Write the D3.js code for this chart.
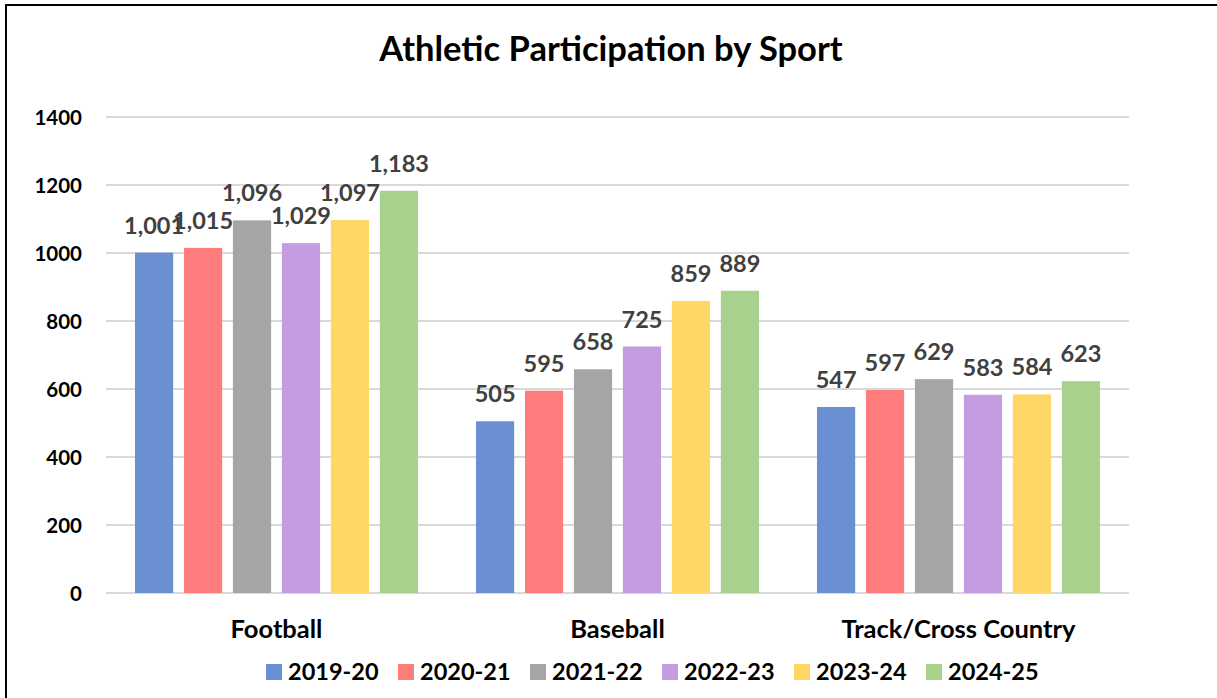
<!DOCTYPE html>
<html>
<head>
<meta charset="utf-8">
<script src="https://cdn.jsdelivr.net/npm/d3@7"></script>
<style>
  html, body { margin: 0; padding: 0; background: #fff; }
  svg { display: block; font-family: Lato, "Open Sans", sans-serif; }
</style>
</head>
<body>
<svg id="chart" width="1217" height="698"></svg>
<script>
const title = "Athletic Participation by Sport";
const categories = ["Football", "Baseball", "Track/Cross Country"];
const seriesNames = ["2019-20", "2020-21", "2021-22", "2022-23", "2023-24", "2024-25"];
const values2019 = [1001, 505, 547];
const values2020 = [1015, 595, 597];
const values2021 = [1096, 658, 629];
const values2022 = [1029, 725, 583];
const values2023 = [1097, 859, 584];
const values2024 = [1183, 889, 623];
const seriesColors = ["#6a8fd2", "#ff7c7c", "#a5a5a5", "#c49de0", "#fed766", "#a9d18e"];
const yTicks = [0, 200, 400, 600, 800, 1000, 1200, 1400];

const seriesValues = [values2019, values2020, values2021, values2022, values2023, values2024];
const data = categories.map((c, i) => ({
  category: c,
  values: seriesNames.map((s, j) => ({ series: s, value: seriesValues[j][i], color: seriesColors[j] }))
}));

const svg = d3.select("#chart");

// outer frame (cropped on right/bottom like reference)
svg.append("path")
  .attr("d", "M6,698 L6,5 L1217,5")
  .attr("fill", "none").attr("stroke", "#000").attr("stroke-width", 2);

const plot = { left: 106, right: 1129, top: 117, bottom: 593 };

const x0 = d3.scaleBand().domain(categories).range([plot.left, plot.right]).paddingInner(0.17).paddingOuter(0.085);
const x1 = d3.scaleBand().domain(seriesNames).range([0, x0.bandwidth()]).paddingInner(0.22).paddingOuter(0);
const y = d3.scaleLinear().domain([0, 1400]).range([plot.bottom, plot.top]);

// gridlines
svg.append("g").selectAll("line").data(yTicks).join("line")
  .attr("x1", plot.left).attr("x2", plot.right)
  .attr("y1", d => y(d)).attr("y2", d => y(d))
  .attr("stroke", "#d9d9d9").attr("stroke-width", 2);

// y axis labels
const yAxis = d3.axisLeft(y).tickValues(yTicks).tickSize(0).tickPadding(0).tickFormat(d3.format("d"));
const yg = svg.append("g").attr("transform", `translate(${plot.left - 24},0)`).call(yAxis);
yg.select(".domain").remove();
yg.selectAll("text").attr("font-size", 20.5).attr("font-weight", "bold").attr("fill", "#000")
  .attr("font-family", "Lato, sans-serif").attr("dy", "0.35em");

// bars
const groups = svg.append("g").selectAll("g").data(data).join("g")
  .attr("transform", d => `translate(${x0(d.category)},0)`);

groups.selectAll("rect").data(d => d.values).join("rect")
  .attr("x", d => x1(d.series))
  .attr("width", x1.bandwidth())
  .attr("y", d => y(d.value))
  .attr("height", d => y(0) - y(d.value))
  .attr("fill", d => d.color);

groups.selectAll("text").data(d => d.values).join("text")
  .attr("x", d => x1(d.series) + x1.bandwidth() / 2)
  .attr("y", d => y(d.value) - 19)
  .attr("text-anchor", "middle")
  .attr("font-size", 23.5).attr("font-weight", "bold").attr("fill", "#404040")
  .text(d => d3.format(",")(d.value));

// category axis labels
const xAxis = d3.axisBottom(x0).tickSize(0).tickPadding(0);
const xg = svg.append("g").attr("transform", `translate(0,${plot.bottom})`).call(xAxis);
xg.select(".domain").remove();
xg.selectAll("text").attr("font-size", 25.5).attr("font-weight", "bold").attr("fill", "#000")
  .attr("font-family", "Lato, sans-serif").attr("dy", 0).attr("y", 45);

// title
svg.append("text").attr("x", 611).attr("y", 61).attr("text-anchor", "middle")
  .attr("font-size", 34.5).attr("font-weight", "bold").attr("fill", "#000").text(title);

// legend
const legendX = d3.scalePoint().domain(seriesNames).range([266, 926]);
const lg = svg.append("g").selectAll("g").data(seriesNames).join("g")
  .attr("transform", d => `translate(${legendX(d)},664)`);
lg.append("rect").attr("width", 16).attr("height", 16).attr("fill", (d, i) => seriesColors[i]);
lg.append("text").attr("x", 22).attr("y", 16)
  .attr("font-size", 23.5).attr("font-weight", "bold").attr("fill", "#000").text(d => d);
</script>
</body>
</html>
